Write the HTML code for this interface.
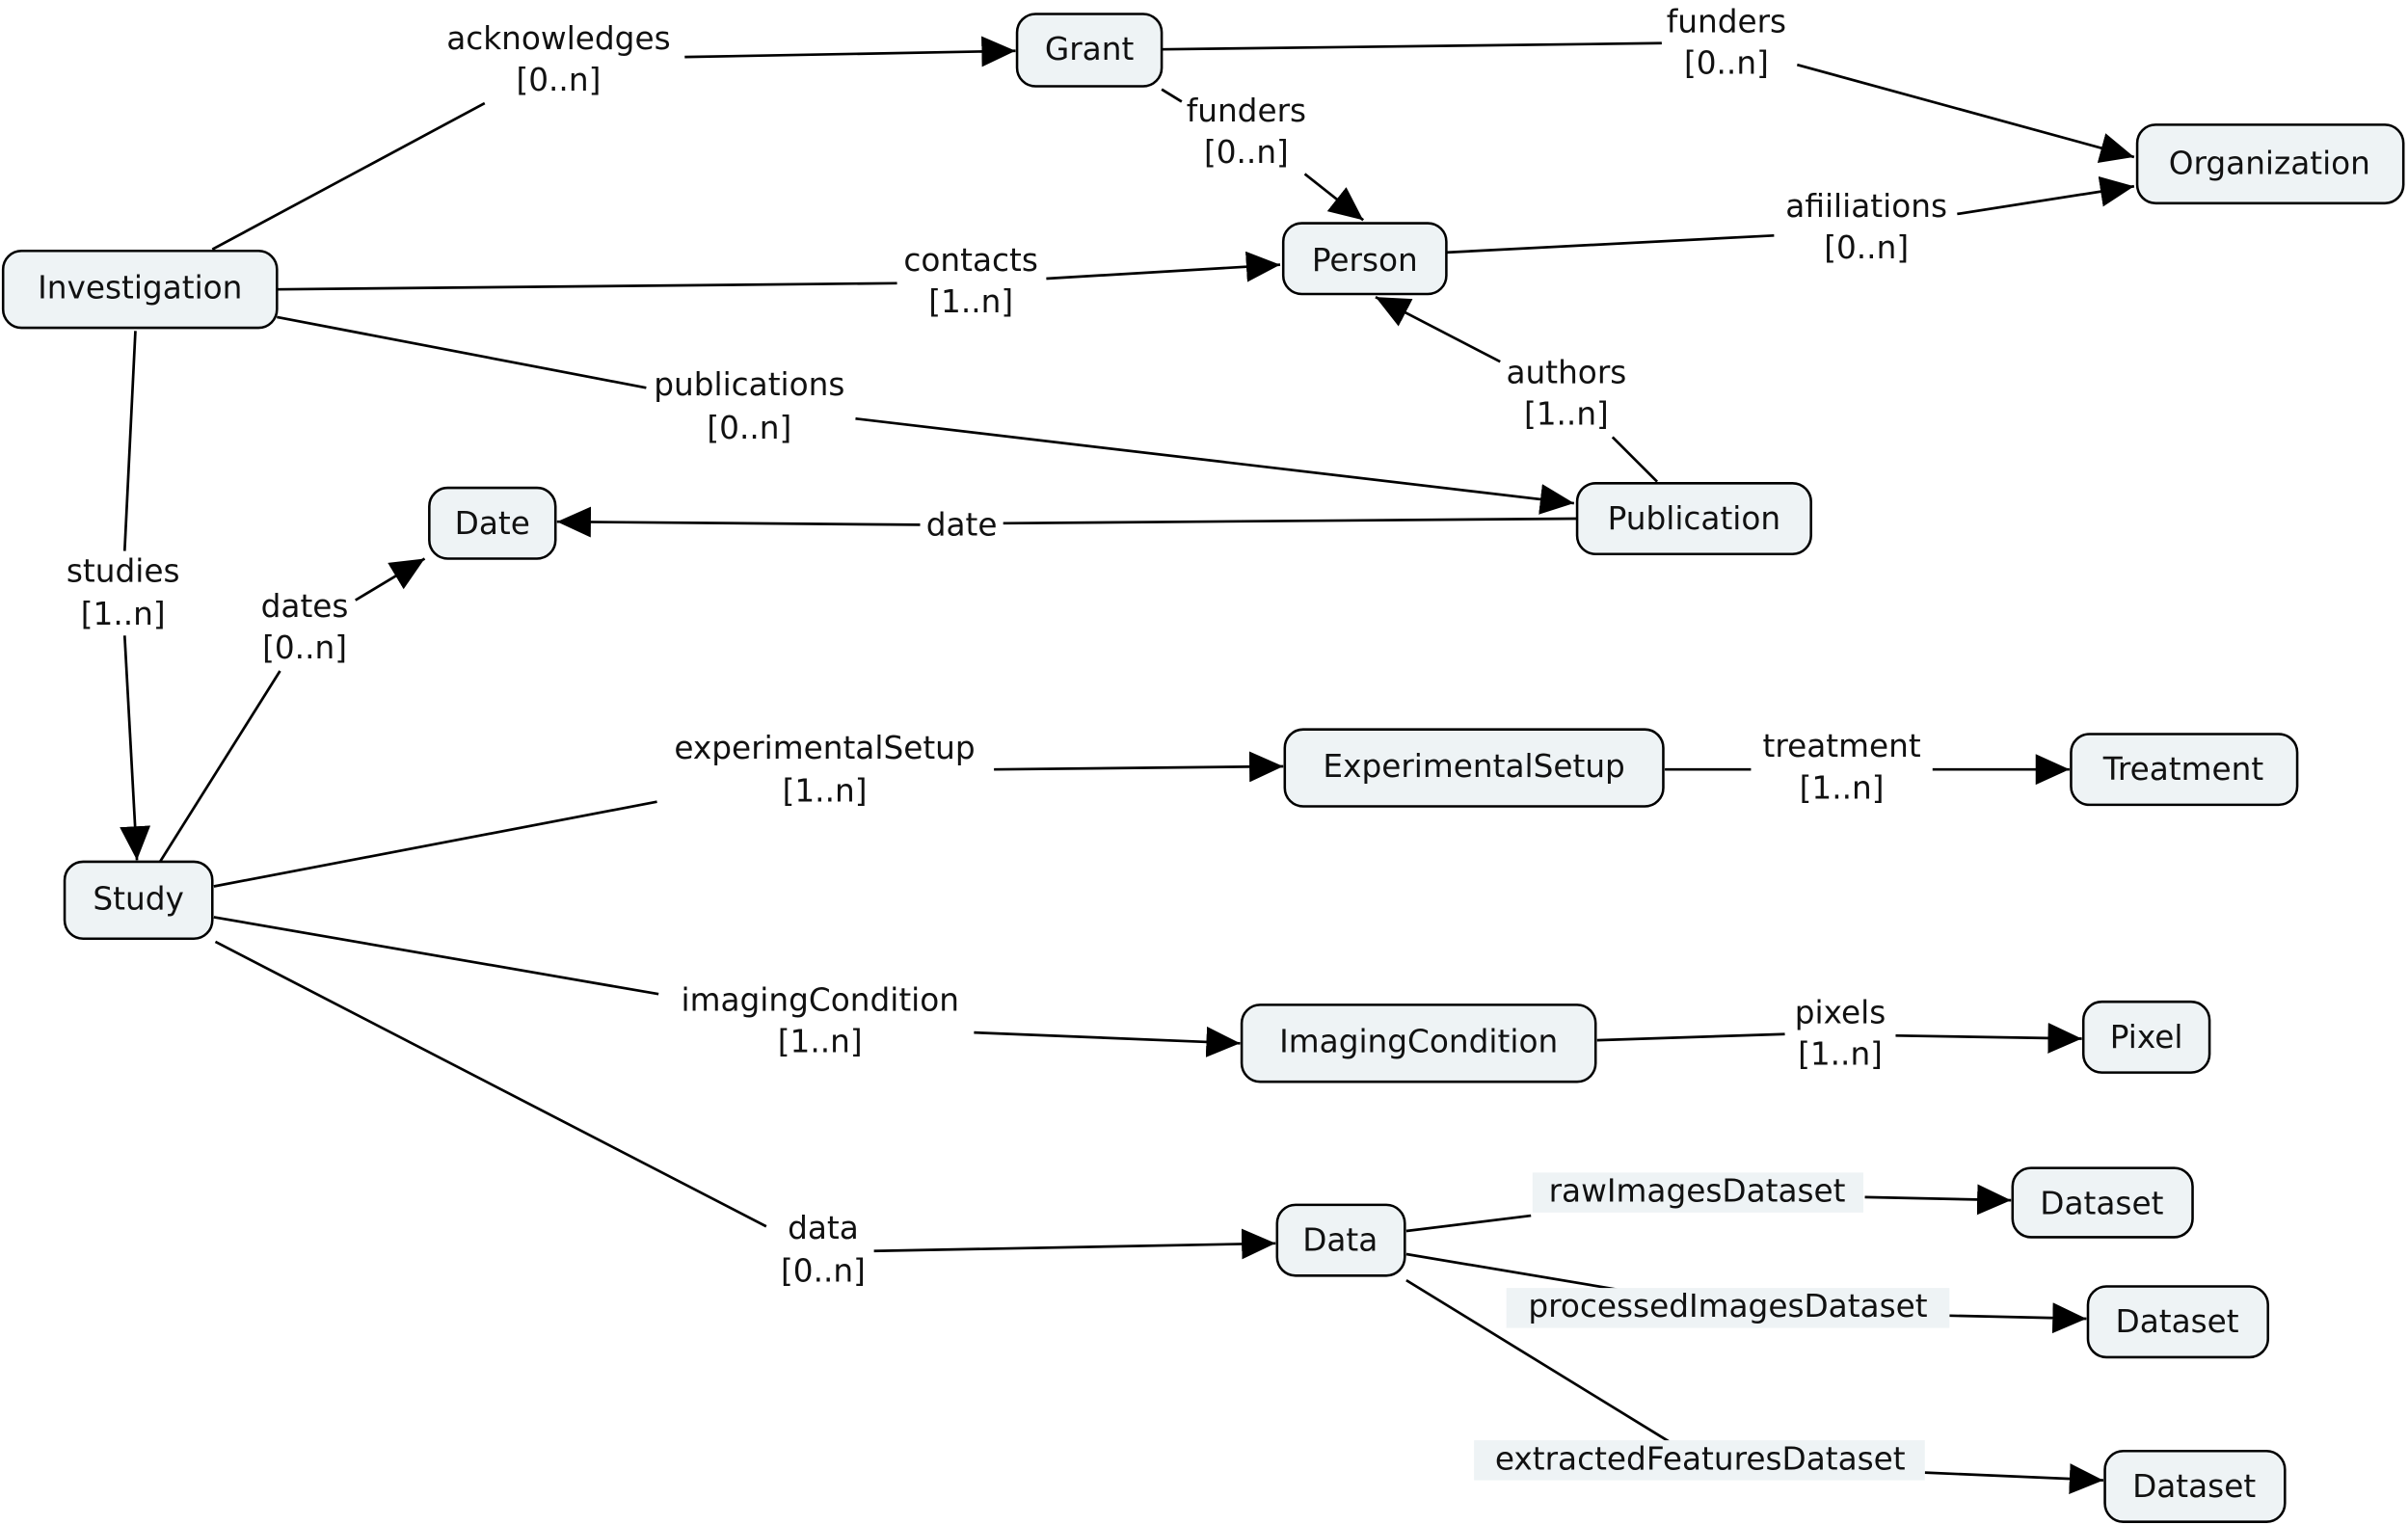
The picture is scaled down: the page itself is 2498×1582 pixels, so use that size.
<!DOCTYPE html>
<html><head><meta charset="utf-8"><style>
html,body{margin:0;padding:0;background:#fff}
svg{display:block}
text{font-family:"DejaVu Sans","Liberation Sans",sans-serif;font-size:20.5px;fill:#111}
.n{fill:#eef3f5;stroke:#000;stroke-width:1.6}
.l{stroke:#000;stroke-width:1.7;fill:none}
</style></head><body>
<svg width="2498" height="1582" viewBox="0 0 1565 991" xmlns="http://www.w3.org/2000/svg">
<defs><marker id="a" markerUnits="userSpaceOnUse" markerWidth="24" markerHeight="22" refX="22" refY="10" orient="auto"><path d="M0,0 L22,10 L0,20 z" fill="#000"/></marker></defs>
<g class="l">
<path d="M138,162 L315,67"/><path d="M445,37 L660,33" marker-end="url(#a)"/>
<path d="M755,32 L1080,28"/><path d="M1168,42 L1387,102" marker-end="url(#a)"/>
<path d="M755,58 L768,66"/><path d="M848,113 L886,143" marker-end="url(#a)"/>
<path d="M940,164 L1153,153"/><path d="M1272,139 L1387,121" marker-end="url(#a)"/>
<path d="M180,188 L583,184"/><path d="M680,181 L832,172" marker-end="url(#a)"/>
<path d="M180,206 L420,252"/><path d="M556,272 L1023,327" marker-end="url(#a)"/>
<path d="M1077,313 L1048,284"/><path d="M975,235 L894,193" marker-end="url(#a)"/>
<path d="M1025,337 L652,340"/><path d="M598,341 L362,339" marker-end="url(#a)"/>
<path d="M88,215 L81,358"/><path d="M81,413 L89,559" marker-end="url(#a)"/>
<path d="M104,560 L182,436"/><path d="M231,390 L276,363" marker-end="url(#a)"/>
<path d="M139,576 L427,521"/><path d="M646,500 L834,498" marker-end="url(#a)"/>
<path d="M1082,500 L1138,500"/><path d="M1256,500 L1345,500" marker-end="url(#a)"/>
<path d="M139,596 L428,646"/><path d="M633,671 L806,678" marker-end="url(#a)"/>
<path d="M1038,676 L1160,672"/><path d="M1232,673 L1353,675" marker-end="url(#a)"/>
<path d="M140,612 L498,797"/><path d="M568,813 L829,808" marker-end="url(#a)"/>
<path d="M914,800 L995,790"/><path d="M1212,778 L1307,780" marker-end="url(#a)"/>
<path d="M914,815 L1051,838"/><path d="M1267,855 L1356,857" marker-end="url(#a)"/>
<path d="M914,832 L1085,937"/><path d="M1251,957 L1367,962" marker-end="url(#a)"/>
</g>
<g fill="#eef3f5">
<rect x="996" y="762" width="215" height="26"/>
<rect x="979" y="837" width="288" height="26"/>
<rect x="958" y="936" width="293" height="26"/>
</g>
<g class="n">
<rect x="2" y="163" width="178" height="50" rx="12"/>
<rect x="661" y="9" width="94" height="47" rx="12"/>
<rect x="1389" y="81" width="173" height="51" rx="12"/>
<rect x="834" y="145" width="106" height="46" rx="12"/>
<rect x="1025" y="314" width="152" height="46" rx="12"/>
<rect x="279" y="317" width="82" height="46" rx="12"/>
<rect x="42" y="560" width="96" height="50" rx="12"/>
<rect x="835" y="474" width="246" height="50" rx="12"/>
<rect x="1346" y="477" width="147" height="46" rx="12"/>
<rect x="807" y="653" width="230" height="50" rx="12"/>
<rect x="1354" y="651" width="82" height="46" rx="12"/>
<rect x="830" y="783" width="83" height="46" rx="12"/>
<rect x="1308" y="759" width="117" height="45" rx="12"/>
<rect x="1357" y="836" width="117" height="46" rx="12"/>
<rect x="1368" y="943" width="117" height="46" rx="12"/>
</g>
<g text-anchor="middle" dominant-baseline="central">
<text x="91" y="187">Investigation</text>
<text x="708" y="32">Grant</text>
<text x="1475" y="106">Organization</text>
<text x="887" y="169">Person</text>
<text x="1101" y="337">Publication</text>
<text x="320" y="340">Date</text>
<text x="90" y="584">Study</text>
<text x="958" y="498">ExperimentalSetup</text>
<text x="1419" y="500">Treatment</text>
<text x="922" y="677">ImagingCondition</text>
<text x="1395" y="674">Pixel</text>
<text x="871" y="806">Data</text>
<text x="1366" y="782">Dataset</text>
<text x="1415" y="859">Dataset</text>
<text x="1426" y="966">Dataset</text>

<text x="363" y="25">acknowledges</text><text x="363" y="52">[0..n]</text>
<text x="1122" y="14">funders</text><text x="1122" y="41">[0..n]</text>
<text x="810" y="72">funders</text><text x="810" y="99">[0..n]</text>
<text x="1213" y="134">afiiliations</text><text x="1213" y="161">[0..n]</text>
<text x="631" y="169">contacts</text><text x="631" y="196">[1..n]</text>
<text x="487" y="250">publications</text><text x="487" y="278">[0..n]</text>
<text x="1018" y="242">authors</text><text x="1018" y="269">[1..n]</text>
<text x="625" y="341">date</text>
<text x="80" y="371">studies</text><text x="80" y="399">[1..n]</text>
<text x="198" y="394">dates</text><text x="198" y="421">[0..n]</text>
<text x="536" y="486">experimentalSetup</text><text x="536" y="514">[1..n]</text>
<text x="1197" y="485">treatment</text><text x="1197" y="512">[1..n]</text>
<text x="533" y="650">imagingCondition</text><text x="533" y="677">[1..n]</text>
<text x="1196" y="658">pixels</text><text x="1196" y="685">[1..n]</text>
<text x="535" y="798">data</text><text x="535" y="826">[0..n]</text>
<text x="1103" y="774">rawImagesDataset</text>
<text x="1123" y="849">processedImagesDataset</text>
<text x="1105" y="948">extractedFeaturesDataset</text>
</g>
</svg>
</body></html>
